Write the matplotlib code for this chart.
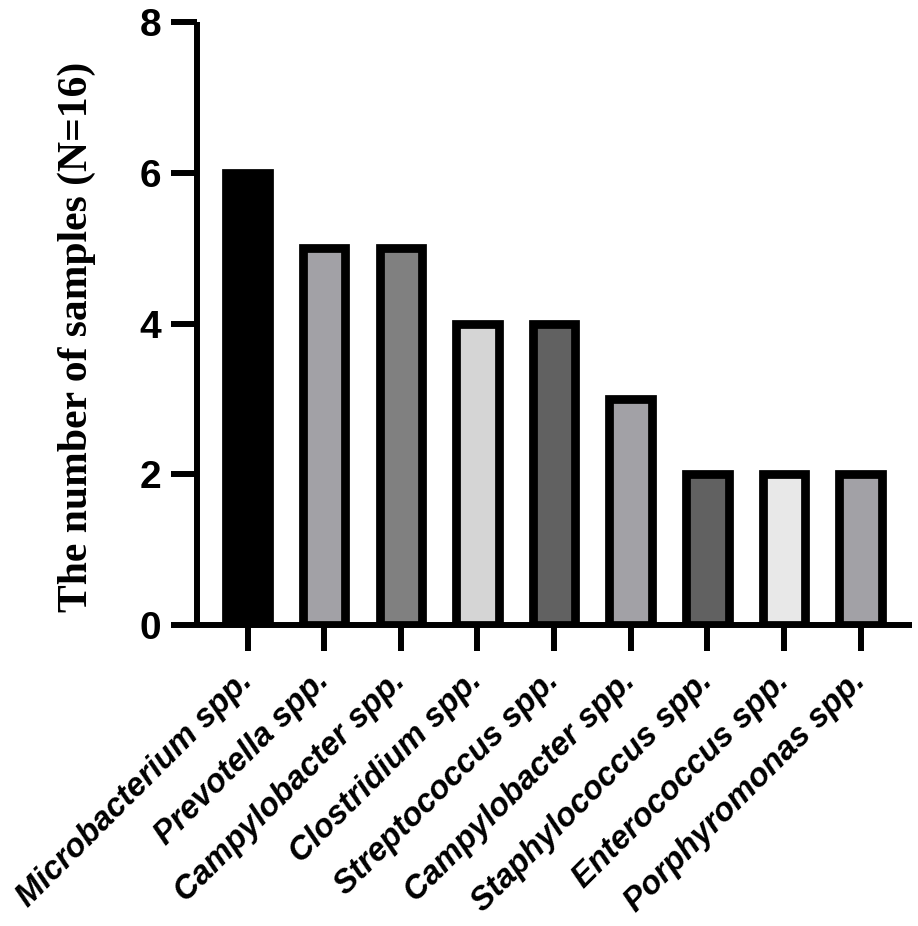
import matplotlib
matplotlib.use("Agg")
import matplotlib.pyplot as plt
import numpy as np

# data
genera = ["Microbacterium spp.", "Prevotella spp.", "Campylobacter spp.",
          "Clostridium spp.", "Streptococcus spp.", "Campylobacter spp.",
          "Staphylococcus spp.", "Enterococcus spp.", "Porphyromonas spp."]
counts = [6, 5, 5, 4, 4, 3, 2, 2, 2]
fills = ["#000000", "#a2a1a6", "#808080", "#d5d5d5", "#616161",
         "#a2a1a6", "#616161", "#e8e8e8", "#a2a1a6"]
yticks = [0, 2, 4, 6, 8]

fig = plt.figure(figsize=(9.18, 9.26), dpi=100)
ax = fig.add_axes([197/918, 1-625/926, (912-197)/918, (625-22)/926])

x = np.arange(len(genera))
ax.bar(x, counts, width=0.555, color=fills, edgecolor="black", linewidth=6.3)

ax.set_xlim(-0.66, 8.67)
ax.set_ylim(0, 8)
ax.set_yticks(yticks)
ax.set_yticklabels([str(v) for v in yticks], fontsize=28, fontweight="bold",
                   family="Liberation Sans")
ax.set_xticks(x)
ax.set_xticklabels(genera, rotation=45, ha="right", va="center", rotation_mode="anchor",
                   fontsize=23.5, fontweight="bold", fontstyle="italic",
                   family="Liberation Sans")

for side in ["top", "right"]:
    ax.spines[side].set_visible(False)
for side in ["left", "bottom"]:
    ax.spines[side].set_linewidth(4.3)
    ax.spines[side].set_capstyle("butt")
ax.tick_params(axis="both", length=19, width=4.3)
ax.tick_params(axis="y", pad=7)
ax.tick_params(axis="x", pad=18)

fig.text(77/918, 1-337/926, "The number of samples (N=16)", rotation=90,
         ha="center", va="center", fontsize=30, fontweight="bold",
         family="Liberation Serif")

fig.savefig("out.png", dpi=100)
